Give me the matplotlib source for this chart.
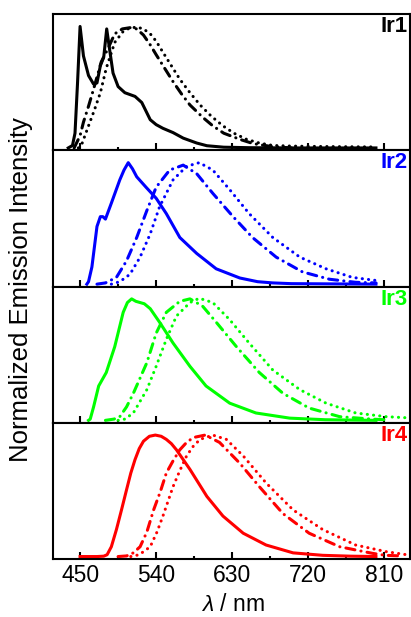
import numpy as np
import matplotlib
matplotlib.use('Agg')
import matplotlib.pyplot as plt
from matplotlib.ticker import MultipleLocator

plt.rcParams['font.family'] = ['Liberation Sans', 'DejaVu Sans']
plt.rcParams['mathtext.fontset'] = 'custom'
plt.rcParams['mathtext.rm'] = 'Liberation Sans'
plt.rcParams['mathtext.it'] = 'Liberation Sans:italic'

# complex names and colours
labels = ['Ir1', 'Ir2', 'Ir3', 'Ir4']
colors = ['black', '#0000ff', '#00ff00', '#ff0000']

# Ir1
wl_ir1_solid = [436, 441, 444, 447, 450, 454, 460, 466, 470, 474, 478, 481.5, 485, 489, 495, 503,
                515, 523, 528, 533, 540, 548, 560, 572, 588, 600, 620, 650, 700, 800]
int_ir1_solid = [0, 0.02, 0.12, 0.53, 0.99, 0.75, 0.59, 0.52, 0.53, 0.67, 0.74, 0.97, 0.80, 0.61, 0.50, 0.45,
                 0.42, 0.37, 0.30, 0.23, 0.19, 0.16, 0.125, 0.08, 0.04, 0.018, 0.006, 0.002, 0.0, 0.0]
wl_ir1_dashdot = [443, 450, 454, 460, 466, 475, 483, 491, 500, 509, 517, 525, 533, 540, 550, 560,
                  570, 580, 595, 607, 620, 639, 655, 678, 700]
int_ir1_dashdot = [0, 0.1, 0.21, 0.34, 0.48, 0.70, 0.81, 0.93, 0.97, 0.98, 0.97, 0.92, 0.84, 0.76, 0.65, 0.54,
                   0.44, 0.35, 0.25, 0.18, 0.12, 0.07, 0.035, 0.01, 0.0]
wl_ir1_dot = [448, 452, 460, 467, 474, 481, 491, 501, 508, 517, 525, 533, 540, 548, 558, 568,
              580, 592, 605, 619, 632, 647, 662, 678, 700, 730, 760, 800]
int_ir1_dot = [0, 0.03, 0.18, 0.31, 0.45, 0.65, 0.86, 0.95, 0.975, 0.985, 0.97, 0.93, 0.87, 0.78, 0.67, 0.56,
               0.45, 0.35, 0.26, 0.18, 0.12, 0.07, 0.04, 0.02, 0.015, 0.012, 0.01, 0.008]

# Ir2
wl_ir2_solid = [458, 460, 464, 470, 474, 477, 480, 487, 497, 502, 507, 512, 517, 528, 540, 552,
                568, 588, 611, 639, 660, 678, 700, 800]
int_ir2_solid = [0, 0.02, 0.14, 0.47, 0.55, 0.55, 0.53, 0.66, 0.85, 0.93, 0.99, 0.94, 0.875, 0.79, 0.70, 0.575,
                 0.38, 0.25, 0.125, 0.05, 0.02, 0.01, 0.004, 0.0]
wl_ir2_dashdot = [470, 480, 493, 505, 517, 529, 540, 556, 572, 588, 607, 631, 654, 682, 713, 745, 776, 800]
int_ir2_dashdot = [0, 0.01, 0.055, 0.19, 0.38, 0.60, 0.79, 0.93, 0.97, 0.90, 0.74, 0.55, 0.38, 0.22, 0.10,
                   0.04, 0.015, 0.01]
wl_ir2_dot = [487, 497, 509, 521, 533, 544, 560, 576, 591, 607, 627, 650, 678, 710, 741, 772, 800]
int_ir2_dot = [0, 0.02, 0.08, 0.22, 0.41, 0.63, 0.85, 0.96, 0.99, 0.93, 0.77, 0.575, 0.38, 0.22, 0.125,
               0.055, 0.03]

# Ir3
wl_ir3_solid = [460, 462, 466, 472, 481, 491, 501, 506, 511, 516, 521, 526, 533, 544, 560, 580,
                599, 627, 658, 698, 740, 800]
int_ir3_solid = [0, 0.01, 0.11, 0.28, 0.39, 0.60, 0.88, 0.96, 0.99, 0.97, 0.96, 0.95, 0.91, 0.80, 0.63, 0.44,
                 0.28, 0.14, 0.06, 0.018, 0.005, 0.0]
wl_ir3_dashdot = [480, 490, 497, 505, 513, 529, 540, 552, 568, 580, 595, 611, 635, 662, 690, 721,
                  757, 795, 810]
int_ir3_dashdot = [0, 0.01, 0.03, 0.11, 0.22, 0.47, 0.71, 0.88, 0.97, 0.99, 0.93, 0.80, 0.60, 0.39, 0.22, 0.10,
                   0.03, 0.01, 0.005]
wl_ir3_dot = [495, 503, 513, 529, 540, 552, 564, 580, 591, 607, 627, 650, 678, 710, 741, 776, 812, 839]
int_ir3_dot = [0, 0.01, 0.06, 0.25, 0.44, 0.66, 0.85, 0.96, 0.995, 0.96, 0.82, 0.63, 0.41, 0.25, 0.14,
               0.06, 0.03, 0.02]

# Ir4
wl_ir4_solid = [450, 470, 478, 482, 487, 493, 499, 505, 510, 515, 520, 525, 532, 539, 546, 552,
                558, 564, 572, 580, 590, 600, 619, 643, 670, 702, 737, 770, 800]
int_ir4_solid = [0, 0, 0.003, 0.015, 0.08, 0.22, 0.38, 0.545, 0.68, 0.79, 0.88, 0.94, 0.98, 0.99, 0.98, 0.955,
                 0.92, 0.87, 0.79, 0.71, 0.60, 0.49, 0.33, 0.19, 0.094, 0.03, 0.01, 0.003, 0.0]
wl_ir4_dashdot = [495, 505, 513, 521, 529, 537, 545, 552, 560, 568, 576, 584, 598, 615, 639, 662,
                  690, 721, 757, 796, 811, 830]
int_ir4_dashdot = [0, 0.005, 0.03, 0.08, 0.2, 0.38, 0.53, 0.68, 0.78, 0.87, 0.93, 0.97, 0.99, 0.93, 0.76, 0.57,
                   0.35, 0.19, 0.08, 0.026, 0.01, 0.005]
wl_ir4_dot = [510, 520, 533, 541, 548, 554, 560, 568, 576, 584, 592, 607, 623, 643, 670, 702,
              737, 776, 812, 839]
int_ir4_dot = [0, 0.015, 0.08, 0.2, 0.33, 0.45, 0.57, 0.70, 0.82, 0.90, 0.955, 0.99, 0.955, 0.82, 0.60, 0.38,
               0.22, 0.094, 0.04, 0.012]

panels = [
    [(wl_ir1_solid, int_ir1_solid), (wl_ir1_dashdot, int_ir1_dashdot), (wl_ir1_dot, int_ir1_dot)],
    [(wl_ir2_solid, int_ir2_solid), (wl_ir2_dashdot, int_ir2_dashdot), (wl_ir2_dot, int_ir2_dot)],
    [(wl_ir3_solid, int_ir3_solid), (wl_ir3_dashdot, int_ir3_dashdot), (wl_ir3_dot, int_ir3_dot)],
    [(wl_ir4_solid, int_ir4_solid), (wl_ir4_dashdot, int_ir4_dashdot), (wl_ir4_dot, int_ir4_dot)],
]

styles = ['-', (0, (3.0, 2.0, 0.05, 2.0)), (0, (0.05, 2.0))]
lw = 2.2

fig, axes = plt.subplots(4, 1, figsize=(4.11, 6.17), dpi=100, sharex=True)
fig.subplots_adjust(left=0.129, right=0.997, top=0.977, bottom=0.094, hspace=0)

for ax, curves, lab, col in zip(axes, panels, labels, colors):
    for (wl, inten), ls in zip(curves, styles):
        ax.plot(wl, inten, color=col, linestyle=ls, linewidth=lw,
                dash_capstyle='round', solid_joinstyle='round')
    ax.set_xlim(418, 840)
    ax.set_ylim(-0.02, 1.09)
    ax.set_yticks([])
    ax.xaxis.set_major_locator(MultipleLocator(90))
    ax.xaxis.set_minor_locator(MultipleLocator(45))
    ax.tick_params(axis='x', which='major', direction='in', length=5, width=1.5, labelsize=16.5)
    ax.tick_params(axis='x', which='minor', direction='in', length=2.5, width=1.5)
    for sp in ax.spines.values():
        sp.set_linewidth(1.5)
    ax.text(0.995, 0.985, lab, transform=ax.transAxes, ha='right', va='top',
            color=col, fontsize=16, fontweight='bold')

axes[-1].set_xticks([450, 540, 630, 720, 810])
fig.text(0.051, 0.53, 'Normalized Emission Intensity', rotation=90, ha='center', va='center', fontsize=18.5)
fig.text(0.566, 0.02, r'$\lambda$ / nm', ha='center', va='center', fontsize=16.5)

fig.savefig('out.png', dpi=100)
